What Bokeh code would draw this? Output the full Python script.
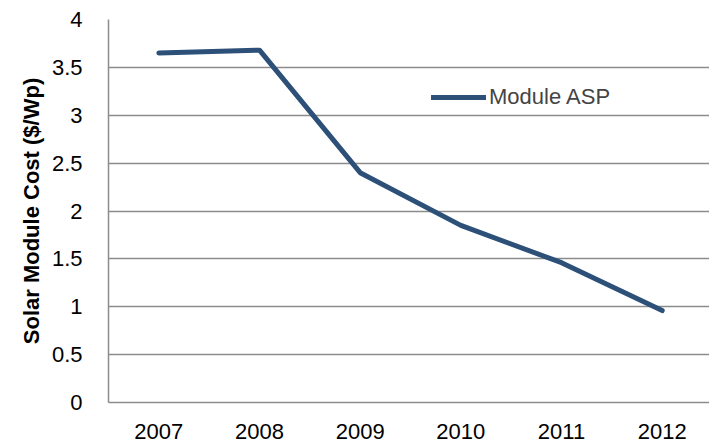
from bokeh.plotting import figure
from bokeh.models import Range1d, FixedTicker, Legend, LegendItem
from bokeh.embed import file_html
from bokeh.resources import INLINE

years = [2007, 2008, 2009, 2010, 2011, 2012]
module_asp = [3.65, 3.68, 2.40, 1.85, 1.46, 0.96]
y_ticks = [0, 0.5, 1, 1.5, 2, 2.5, 3, 3.5, 4]
y_labels = {0: "0", 0.5: "0.5", 1: "1", 1.5: "1.5", 2: "2", 2.5: "2.5", 3: "3", 3.5: "3.5", 4: "4"}

FONT = "Liberation Sans"
p = figure(width=709, height=446, output_backend="svg", toolbar_location=None,
           x_range=Range1d(2006.5, 2012.47), y_range=Range1d(0, 4),
           min_border_left=108, min_border_right=0, min_border_top=19, min_border_bottom=44)
p.outline_line_color = None
p.background_fill_color = "white"

r = p.line(years, module_asp, line_color="#2D5079", line_width=5, line_cap="round", line_join="round")

p.xaxis.ticker = FixedTicker(ticks=years)
p.yaxis.ticker = FixedTicker(ticks=y_ticks)
p.yaxis.major_label_overrides = y_labels
p.xgrid.grid_line_color = None
p.ygrid.grid_line_color = "#8C8C8C"
p.ygrid.grid_line_width = 1.5
for ax in (p.xaxis[0], p.yaxis[0]):
    ax.major_tick_line_color = None
    ax.minor_tick_line_color = None
    ax.axis_line_color = "#8C8C8C"
    ax.axis_line_width = 1.5
    ax.major_label_text_font = FONT
    ax.major_label_text_font_size = "22px"
    ax.major_label_text_color = "black"
p.yaxis.major_label_standoff = 20
p.xaxis.major_label_standoff = 15
p.yaxis.axis_label = "Solar Module Cost ($/Wp)"
p.yaxis.axis_label_text_font = FONT
p.yaxis.axis_label_text_font_style = "bold"
p.yaxis.axis_label_text_font_size = "22px"
p.yaxis.axis_label_text_color = "black"
p.yaxis.axis_label_standoff = 5

legend = Legend(items=[LegendItem(label="Module ASP", renderers=[r])],
                location=(323, 292), glyph_width=55, glyph_height=20,
                padding=0, margin=0, spacing=0, label_standoff=3,
                label_text_font=FONT, label_text_font_size="22px",
                background_fill_alpha=0, border_line_color=None)
p.add_layout(legend)

open("out.html", "w").write(file_html(p, INLINE))
